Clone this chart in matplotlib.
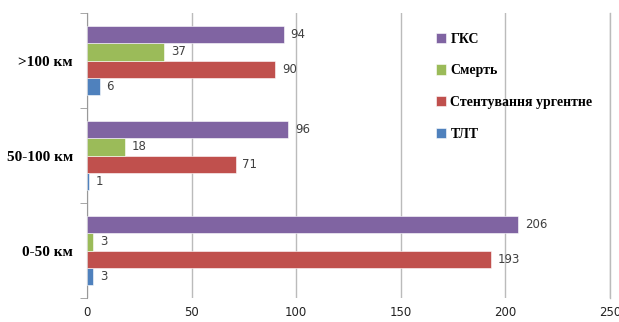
import numpy as np
import matplotlib.pyplot as plt

# data
categories = ["0-50 км", "50-100 км", ">100 км"]
series_names = ["ТЛТ", "Стентування ургентне", "Смерть", "ГКС"]
tlt = [3, 1, 6]
stent = [193, 71, 90]
death = [3, 18, 37]
gks = [206, 96, 94]
colors = ["#4F81BD", "#C0504D", "#9BBB59", "#8064A2"]

values = [tlt, stent, death, gks]

fig = plt.figure(figsize=(6.19, 3.22), dpi=100)
ax = fig.add_axes([0.1405, 0.0745, 0.845, 0.885])

y = np.arange(len(categories))
h = 0.184
offsets = [-1.5 * h, -0.5 * h, 0.5 * h, 1.5 * h]

handles = []
for vals, name, col, off in zip(values, series_names, colors, offsets):
    bars = ax.barh(y + off, vals, height=h, color=col, label=name,
                   edgecolor="white", linewidth=0.4, zorder=3)
    handles.append(bars)
    for yy, v in zip(y + off, vals):
        ax.annotate(str(v), (v, yy), xytext=(5, 0), textcoords="offset points",
                    va="center", ha="left", fontsize=8.5, color="#404040",
                    family="DejaVu Sans")

ax.set_xlim(0, 250)
ax.set_ylim(-0.5, 2.5)
ax.set_xticks(np.arange(0, 251, 50))
ax.tick_params(axis="x", length=0, labelsize=8.5, colors="#222222", pad=6)
ax.xaxis.grid(True, color="#BBBBBB", linewidth=1.0, zorder=0)
ax.axvline(250, color="#BBBBBB", linewidth=1.0, clip_on=False, zorder=0)
ax.set_axisbelow(True)

ax.set_yticks(y)
ax.set_yticklabels(categories, family="Liberation Serif", fontweight="bold",
                   fontsize=11)
ax.tick_params(axis="y", length=0, pad=10)
ax.set_yticks([-0.5, 0.5, 1.5, 2.5], minor=True)
ax.tick_params(axis="y", which="minor", length=5, color="#999999")

for s in ["top", "right", "bottom"]:
    ax.spines[s].set_visible(False)
ax.spines["left"].set_color("#999999")

leg = ax.legend(handles[::-1], series_names[::-1], loc="upper left",
                bbox_to_anchor=(0.643, 0.975), frameon=False,
                prop={"family": "Liberation Serif", "weight": "bold", "size": 10},
                handlelength=0.75, handleheight=0.75, handletextpad=0.3,
                labelspacing=1.35)

fig.savefig("out.png", dpi=100)
